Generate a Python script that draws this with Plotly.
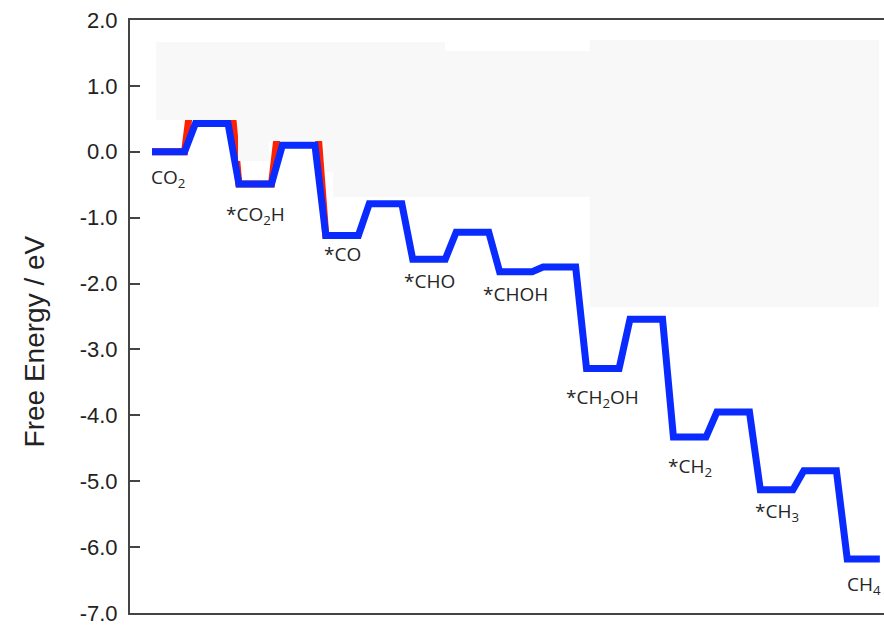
import plotly.graph_objects as go

# ---- data ----
states = ["CO<sub>2</sub>", "*CO<sub>2</sub>H", "*CO", "*CHO", "*CHOH",
          "*CH<sub>2</sub>OH", "*CH<sub>2</sub>", "*CH<sub>3</sub>", "CH<sub>4</sub>"]
state_energy = [0.0, -0.49, -1.27, -1.63, -1.82, -3.29, -4.33, -5.13, -6.18]
ts_energy = [0.43, 0.10, -0.79, -1.22, -1.75, -2.54, -3.95, -4.84]

red_state_energy = [0.0, -0.49, -1.27]
red_ts_energy = [1.30, 0.90]

y_tick_vals = [2, 1, 0, -1, -2, -3, -4, -5, -6, -7]
y_tick_text = ["2.0", "1.0", "0.0", "-1.0", "-2.0", "-3.0", "-4.0", "-5.0", "-6.0", "-7.0"]

# light-grey background patch (decoration) in data coordinates
mask_x = [0.046, 3.372, 3.372, 5.040, 5.040, 8.366, 8.366, 5.040, 5.040, 2.083,
          2.083, 1.991, 1.991, 1.346, 1.346, 0.990, 0.990, 0.046, 0.046]
mask_y = [1.666, 1.666, 1.530, 1.530, 1.697, 1.697, -2.355, -2.355, -0.686, -0.686,
          -0.305, -0.305, 0.164, 0.164, -0.140, -0.140, 0.483, 0.483, 1.666]

# label vertical offsets below each plateau (px)
label_shift = [10, 15, 4, 7, 7, 13, 14, 6, 10]

# ---- geometry of the step profile ----
PLAT = 0.375
SLANT = 0.125


def profile(levels, barriers):
    xs, ys = [], []
    for i, e in enumerate(levels):
        xs += [i, i + PLAT]
        ys += [e, e]
        if i < len(barriers) and i < len(levels) - 1:
            xs += [i + PLAT + SLANT, i + 2 * PLAT + SLANT]
            ys += [barriers[i], barriers[i]]
    return xs, ys


bx, by = profile(state_energy, ts_energy)
rx, ry = profile(red_state_energy, red_ts_energy)

fig = go.Figure()
fig.add_trace(go.Scatter(x=rx, y=ry, mode="lines",
                         line=dict(color="#ff2200", width=7),
                         hoverinfo="skip", showlegend=False))
fig.add_trace(go.Scatter(x=mask_x, y=mask_y, mode="lines", fill="toself",
                         fillcolor="#f8f8f8", line=dict(color="#f8f8f8", width=0),
                         hoverinfo="skip", showlegend=False))
fig.add_trace(go.Scatter(x=bx, y=by, mode="lines",
                         line=dict(color="#0a2bff", width=7),
                         hoverinfo="skip", showlegend=False))

for i, (lab, e) in enumerate(zip(states, state_energy)):
    fig.add_annotation(x=i + PLAT / 2, y=e, text=lab, showarrow=False,
                       xanchor="center", yanchor="top", yshift=-label_shift[i],
                       font=dict(family="Open Sans", size=19, color="#262626"))

fig.add_annotation(xref="paper", yref="paper", x=0, y=0.458, xshift=-96,
                   text="Free Energy / eV", showarrow=False, textangle=-90,
                   xanchor="center", yanchor="middle",
                   font=dict(family="Liberation Sans", size=28, color="#222222"))

fig.update_layout(
    width=884, height=626,
    margin=dict(l=130, r=0, t=20, b=13),
    paper_bgcolor="white", plot_bgcolor="white",
    showlegend=False,
    xaxis=dict(range=[-0.253, 8.423], showgrid=False, zeroline=False,
               showticklabels=False, ticks="", showline=True, mirror=True,
               linecolor="#444444", linewidth=2),
    yaxis=dict(range=[-7, 2], showgrid=False, zeroline=False,
               tickvals=y_tick_vals, ticktext=y_tick_text,
               ticks="inside", ticklen=10, tickwidth=1.5, tickcolor="#444444",
               ticklabelstandoff=6,
               showline=True, mirror=False, linecolor="#444444", linewidth=2,
               tickfont=dict(family="Liberation Sans", size=22, color="#222222")),
)

fig.write_html("out.html")
